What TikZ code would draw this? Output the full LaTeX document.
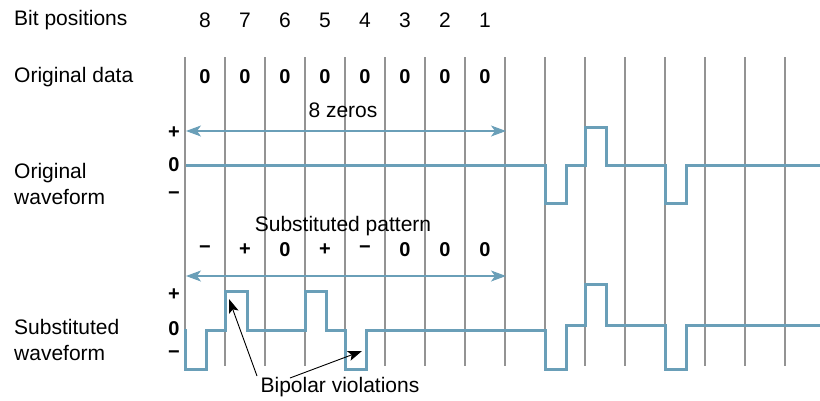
\documentclass[tikz,border=0pt]{standalone}
\usepackage{fontspec}
\setmainfont{Liberation Sans}
\usetikzlibrary{arrows.meta}
\definecolor{wave}{HTML}{6A9FB8}
\definecolor{gridc}{HTML}{939393}
\begin{document}
\begin{tikzpicture}[x=1pt,y=-1pt,
  lbl/.style={font=\fontsize{21}{26}\selectfont, inner sep=0pt},
  sym/.style={font=\fontsize{20}{24}\selectfont\bfseries, inner sep=0pt},
  leftlbl/.style={lbl, anchor=west, align=left},
  gridline/.style={draw=gridc, line width=1.1pt},
  wavel/.style={draw=wave, line width=3pt, line join=miter},
  spanarrow/.style={draw=wave, line width=1.1pt, {Stealth[length=15pt,width=11pt,inset=4pt]}-{Stealth[length=15pt,width=11pt,inset=4pt]}},
  violarrow/.style={draw=black, line width=0.9pt, -{Stealth[length=14pt,width=10pt,inset=3pt]}}]
\useasboundingbox (0,0) rectangle (820,400);

% grid
\foreach \i in {0,...,15}
  \draw[gridline] (185+40*\i,57) -- (185+40*\i,366);

% left labels
\node[leftlbl] (bitpos) at (14,20) {Bit positions};
\node[leftlbl] (origdata) at (14,77) {Original data};
\node[leftlbl] (origwave) at (14,184) {Original\\waveform};
\node[leftlbl] (subwave) at (14,340) {Substituted\\waveform};

% level labels
\node[sym] (op) at (174,133) {+};
\node[sym] (oz) at (174,165) {0};
\node[sym] (om) at (174,196) {−};
\node[sym] (sp) at (174,295) {+};
\node[sym] (sz) at (174,329) {0};
\node[sym] (sm) at (174,355) {−};

% bit positions and data
\foreach \b [count=\k from 0] in {8,7,6,5,4,3,2,1} {
  \node[lbl] (bit\b) at (205+40*\k,20) {\b};
  \node[sym] (dat\b) at (205+40*\k,77) {0};
}

% substituted pattern symbols
\foreach \s [count=\k from 0] in {−,+,0,+,−,0,0,0}
  \node[sym] (pat\k) at (205+40*\k,250) {\s};

% span arrows
\coordinate (za) at (186,131);
\coordinate (zb) at (506,131);
\draw[spanarrow] (za) -- (zb);
\node[lbl] (zeros) at (343,110) {8 zeros};

\coordinate (pa) at (186,276);
\coordinate (pb) at (506,276);
\draw[spanarrow] (pa) -- (pb);
\node[lbl] (subpat) at (343,226) {Substituted pattern};

% original waveform
\draw[wavel] (186,165) -- (545,165) -- (545,203) -- (566,203) -- (566,165)
  -- (585,165) -- (585,127) -- (606,127) -- (606,165) -- (665,165)
  -- (665,203) -- (686,203) -- (686,165) -- (821,165);

% substituted waveform
\draw[wavel] (185,329) -- (185,369) -- (206,369) -- (206,330) -- (225,330)
  -- (225,291) -- (247,291) -- (247,330) -- (305,330) -- (305,291)
  -- (326,291) -- (326,330) -- (345,330) -- (345,369) -- (366,369)
  -- (366,330) -- (545,330) -- (545,369) -- (566,369) -- (566,325)
  -- (585,325) -- (585,284) -- (606,284) -- (606,325) -- (665,325)
  -- (665,369) -- (686,369) -- (686,325) -- (821,325);

% bipolar violations
\node[lbl] (bipolar) at (340,387) {Bipolar violations};
\coordinate (v1) at (229,299);
\coordinate (v2) at (362,351);
\coordinate (t1) at (257,376);
\coordinate (t2) at (290,378);
\draw[violarrow] (t1) -- (v1);
\draw[violarrow] (t2) -- (v2);
\end{tikzpicture}
\end{document}
